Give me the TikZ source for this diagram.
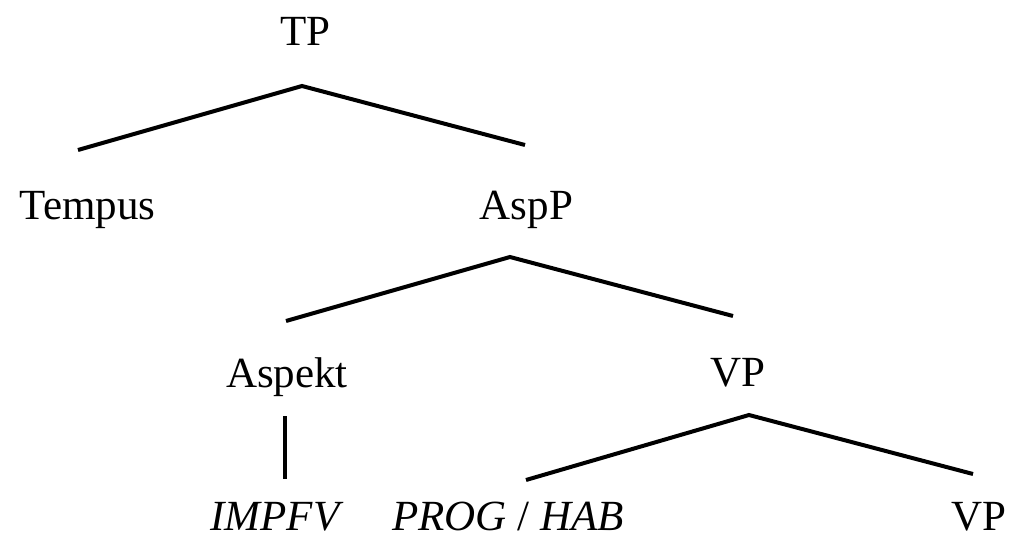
\documentclass[tikz,border=0pt]{standalone}
\usepackage{fontspec}
\setmainfont{Liberation Serif}
\begin{document}
\begin{tikzpicture}[x=1pt,y=-1pt,
  label/.style={inner sep=0pt,anchor=base,font=\fontsize{43}{50}\selectfont},
  branch/.style={line width=4pt,line join=miter}]
\useasboundingbox (0,0) rectangle (1012,536);

% category labels
\node[label] (tp)     at (305.5,45)  {TP};
\node[label] (tempus) at (87.5,219)  {Tempus};
\node[label] (aspp)   at (526.5,219) {AspP};
\node[label] (aspekt) at (287,387)   {Aspekt};
\node[label] (vp)     at (738,386)   {VP};
\node[label] (impfv)  at (277,530)   {\textit{IMPFV}};
\node[label] (proghab) at (508,530)  {\textit{PROG} / \textit{HAB}};
\node[label] (vp2)    at (979,530)   {VP};

% branch points and branch ends
\coordinate (tp-apex)   at (302,86);
\coordinate (tp-left)   at (78,150);
\coordinate (tp-right)  at (525,145);
\coordinate (asp-apex)  at (510,257);
\coordinate (asp-left)  at (286,321);
\coordinate (asp-right) at (733,316);
\coordinate (akt-top)   at (285,416);
\coordinate (akt-bot)   at (285,479);
\coordinate (vp-apex)   at (749,415);
\coordinate (vp-left)   at (526,480);
\coordinate (vp-right)  at (973,474);

% branches
\draw[branch] (tp-left) -- (tp-apex) -- (tp-right);
\draw[branch] (asp-left) -- (asp-apex) -- (asp-right);
\draw[branch] (akt-top) -- (akt-bot);
\draw[branch] (vp-left) -- (vp-apex) -- (vp-right);
\end{tikzpicture}
\end{document}
